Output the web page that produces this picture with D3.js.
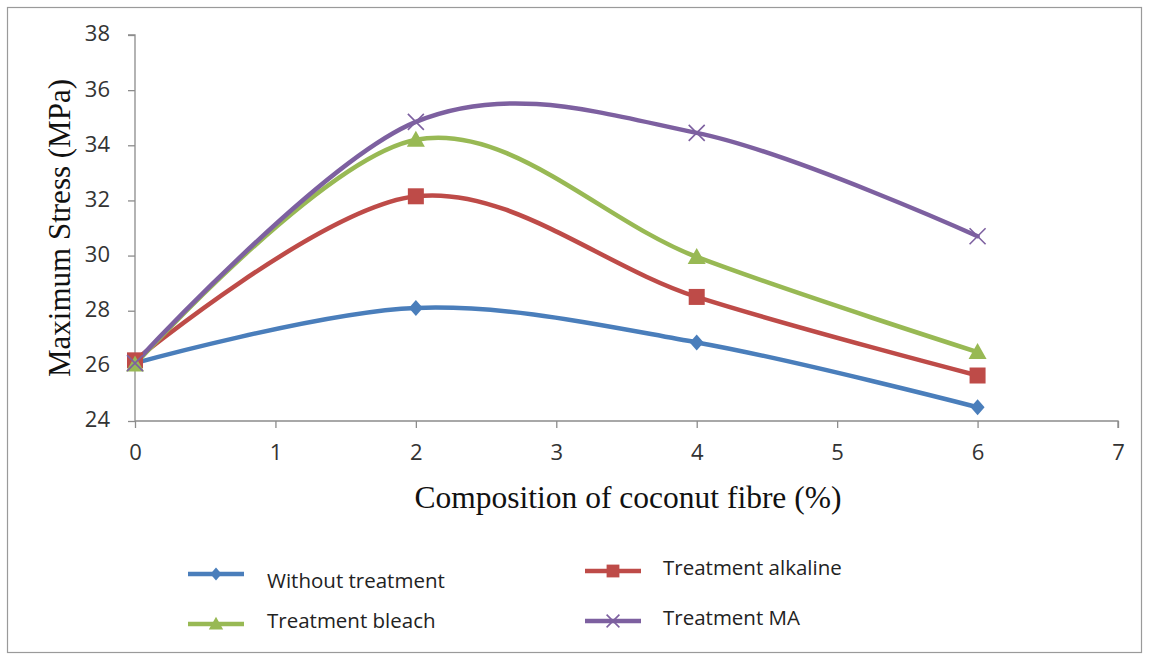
<!DOCTYPE html>
<html>
<head>
<meta charset="utf-8">
<script src="https://cdn.jsdelivr.net/npm/d3@7"></script>
<style>
  body { margin: 0; background: #fff; }
  .tick text { font-family: "Open Sans", sans-serif; font-size: 22px; fill: #333; }
  .axes path, .axes line { stroke: #8c8c8c; stroke-width: 1.3px; }
</style>
</head>
<body>
<div id="chart"></div>
<script>
// data
var compositions = [0, 2, 4, 6];
var seriesNames = ["Without treatment", "Treatment alkaline", "Treatment bleach", "Treatment MA"];
var withoutTreatment = [26.1, 28.1, 26.85, 24.5];
var treatmentAlkaline = [26.2, 32.15, 28.5, 25.65];
var treatmentBleach = [26.05, 34.2, 29.95, 26.5];
var treatmentMA = [26.1, 34.85, 34.45, 30.7];
var xTicks = [0, 1, 2, 3, 4, 5, 6, 7];
var yTicks = [24, 26, 28, 30, 32, 34, 36, 38];

var seriesValues = [withoutTreatment, treatmentAlkaline, treatmentBleach, treatmentMA];
var seriesColors = ["#4a7ebb", "#be4b48", "#98b954", "#7d60a0"];
var seriesSymbols = ["diamond", "square", "triangle", "cross"];

var width = 1149, height = 658;
var margin = {left: 135, right: 31, top: 35, bottom: 237};

var svg = d3.select("#chart").append("svg")
    .attr("width", width)
    .attr("height", height);

// outer frame
svg.append("rect")
    .attr("x", 7.5).attr("y", 7.5)
    .attr("width", 1134).attr("height", 645)
    .attr("fill", "none")
    .attr("stroke", "#9a9a9a")
    .attr("stroke-width", 1.2);

var xScale = d3.scaleLinear().domain([0, 7]).range([margin.left, width - margin.right]);
var yScale = d3.scaleLinear().domain([24, 38]).range([height - margin.bottom, margin.top]);

//Axes
var xAxis = d3.axisBottom(xScale).tickValues(xTicks).tickSize(7).tickPadding(10).tickFormat(d3.format("d"));
var yAxis = d3.axisLeft(yScale).tickValues(yTicks).tickSize(7).tickPadding(18).tickFormat(d3.format("d"));

svg.append("g")
    .attr("class", "x-axis axes")
    .attr("transform", "translate(0," + yScale(24) + ")")
    .call(xAxis)
    .call(function(g) { g.select(".domain").attr("d", "M" + xScale(0) + ",0H" + xScale(7) + "V7"); });

svg.append("g")
    .attr("class", "y-axis axes")
    .attr("transform", "translate(" + xScale(0) + ",0)")
    .call(yAxis)
    .call(function(g) { g.select(".domain").attr("d", "M-7," + yScale(38) + "H0V" + yScale(24)); });

svg.selectAll(".tick text").attr("dy", null).attr("dominant-baseline", "middle");
svg.selectAll(".x-axis .tick text").attr("dominant-baseline", "hanging").attr("y", 20);

// axis titles
svg.append("text")
    .attr("x", 628).attr("y", 508)
    .attr("text-anchor", "middle")
    .style("font-family", "'Liberation Serif', 'Times New Roman', serif")
    .style("font-size", "31.5px")
    .style("fill", "#111")
    .text("Composition of coconut fibre (%)");

svg.append("text")
    .attr("transform", "translate(70,228) rotate(-90)")
    .attr("text-anchor", "middle")
    .style("font-family", "'Liberation Serif', 'Times New Roman', serif")
    .style("font-size", "31px")
    .style("fill", "#111")
    .text("Maximum Stress (MPa)");

var line = d3.line()
    .x(function(d) { return xScale(d.x); })
    .y(function(d) { return yScale(d.y); })
    .curve(d3.curveCardinal.tension(0));

function drawMarker(g, kind, color, x, y, s) {
    s = s || 1;
    if (kind === "diamond") {
        g.append("path").attr("d", "M" + x + "," + (y - 8 * s) + "L" + (x + 7 * s) + "," + y + "L" + x + "," + (y + 8 * s) + "L" + (x - 7 * s) + "," + y + "Z")
            .attr("fill", color);
    } else if (kind === "square") {
        g.append("rect").attr("x", x - 8 * s).attr("y", y - 8 * s).attr("width", 16 * s).attr("height", 16 * s).attr("fill", color);
    } else if (kind === "triangle") {
        g.append("path").attr("d", "M" + x + "," + (y - 9 * s) + "L" + (x + 9 * s) + "," + (y + 7 * s) + "L" + (x - 9 * s) + "," + (y + 7 * s) + "Z")
            .attr("fill", color);
    } else {
        g.append("path").attr("d", "M" + (x - 8 * s) + "," + (y - 8 * s) + "L" + (x + 8 * s) + "," + (y + 8 * s) + "M" + (x + 8 * s) + "," + (y - 8 * s) + "L" + (x - 8 * s) + "," + (y + 8 * s))
            .attr("stroke", color).attr("stroke-width", 1.6).attr("fill", "none");
    }
}

var plot = svg.append("g").attr("class", "chart");

seriesValues.forEach(function(vals, i) {
    var pts = compositions.map(function(c, j) { return {x: c, y: vals[j]}; });
    plot.append("path")
        .datum(pts)
        .attr("d", line)
        .attr("fill", "none")
        .attr("stroke", seriesColors[i])
        .attr("stroke-width", 4.5)
        .attr("stroke-linecap", "round");
});

// markers on top of lines
seriesValues.forEach(function(vals, i) {
    var g = plot.append("g");
    compositions.forEach(function(c, j) {
        drawMarker(g, seriesSymbols[i], seriesColors[i], xScale(c), yScale(vals[j]));
    });
});

// legend
var legendPos = [[188, 574, 267, 583], [585, 571, 663, 570], [188, 624, 267, 623], [585, 621, 663, 620]];
var legend = svg.append("g").attr("class", "legend");
seriesNames.forEach(function(name, i) {
    var p = legendPos[i];
    legend.append("line")
        .attr("x1", p[0]).attr("x2", p[0] + 56)
        .attr("y1", p[1]).attr("y2", p[1])
        .attr("stroke", seriesColors[i])
        .attr("stroke-width", 4.5);
    drawMarker(legend, seriesSymbols[i], seriesColors[i], p[0] + 28, p[1], 0.8);
    legend.append("text")
        .attr("x", p[2]).attr("y", p[3])
        .attr("dominant-baseline", "middle")
        .style("font-family", "'Open Sans', sans-serif")
        .style("font-size", "20.5px")
        .style("fill", "#222")
        .text(name);
});
</script>
</body>
</html>
